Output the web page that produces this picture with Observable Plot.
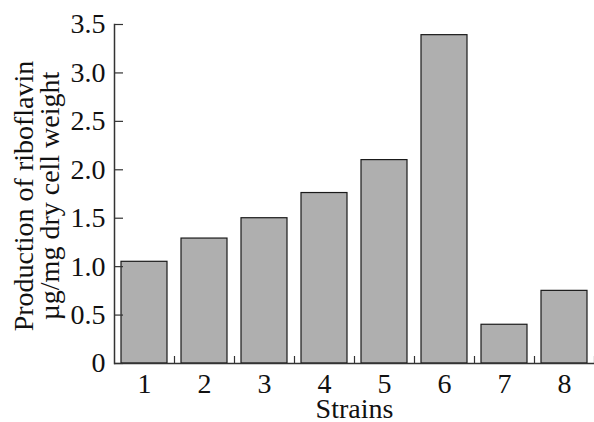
<!DOCTYPE html>
<html><head><meta charset="utf-8">
<script src="https://cdn.jsdelivr.net/npm/d3@7"></script>
<script src="https://cdn.jsdelivr.net/npm/@observablehq/plot@0.6"></script>
<style>body{margin:0;background:#fff} svg{display:block}</style>
</head><body><div id="chart"></div>
<script>
const strains = ["1","2","3","4","5","6","7","8"];
const riboflavin = [1.05, 1.29, 1.50, 1.76, 2.10, 3.39, 0.40, 0.75];
const yTicks = [0, 0.5, 1, 1.5, 2, 2.5, 3, 3.5];
const yTickLabels = ["0","0.5","1.0","1.5","2.0","2.5","3.0","3.5"];
const yTitle = ["Production of riboflavin", "µg/mg dry cell weight"];
const xTitle = "Strains";

const data = strains.map((s, i) => ({strain: s, value: riboflavin[i]}));
const font = "'Liberation Serif', Tinos, 'Times New Roman', serif";

const chart = Plot.plot({
  width: 594, height: 422,
  marginLeft: 114, marginRight: 0, marginTop: 24, marginBottom: 59,
  style: {fontFamily: font, fontSize: "28px", color: "#111", background: "#fff"},
  x: {domain: strains, paddingInner: 0.23, paddingOuter: 0.115, axis: null},
  y: {domain: [0, 3.5], axis: null},
  marks: [
    Plot.barY(data, {x: "strain", y: "value", fill: "#afafaf", stroke: "#1a1a1a", strokeWidth: 1.2}),
    Plot.frame({anchor: "left", stroke: "#333", strokeWidth: 1.5}),
    Plot.ruleY([0], {stroke: "#333", strokeWidth: 1.5}),
    Plot.axisY({ticks: yTicks, anchor: "right", frameAnchor: "left", tickSize: 8, text: null, label: null,
      stroke: "#333", strokeWidth: 1.2}),
    Plot.axisY({ticks: yTicks, tickSize: 0, tickPadding: 9, label: null, fontSize: 28,
      tickFormat: d => yTickLabels[yTicks.indexOf(d)]}),
    Plot.axisX({anchor: "top", frameAnchor: "bottom", tickSize: 8, text: null, label: null, dx: 30,
      stroke: "#333", strokeWidth: 1.2}),
    Plot.axisX({tickSize: 0, tickPadding: 10, label: null, fontSize: 28}),
    Plot.text([yTitle.join("\n")], {text: d => d, frameAnchor: "left", dx: -56, dy: 2, rotate: -90,
      textAnchor: "middle", lineAnchor: "bottom", lineHeight: 0.92, fontSize: 28}),
    Plot.text([xTitle], {text: d => d, frameAnchor: "bottom", dy: 54, lineAnchor: "bottom", fontSize: 28})
  ]
});
document.getElementById("chart").append(chart);
</script>
</body></html>
